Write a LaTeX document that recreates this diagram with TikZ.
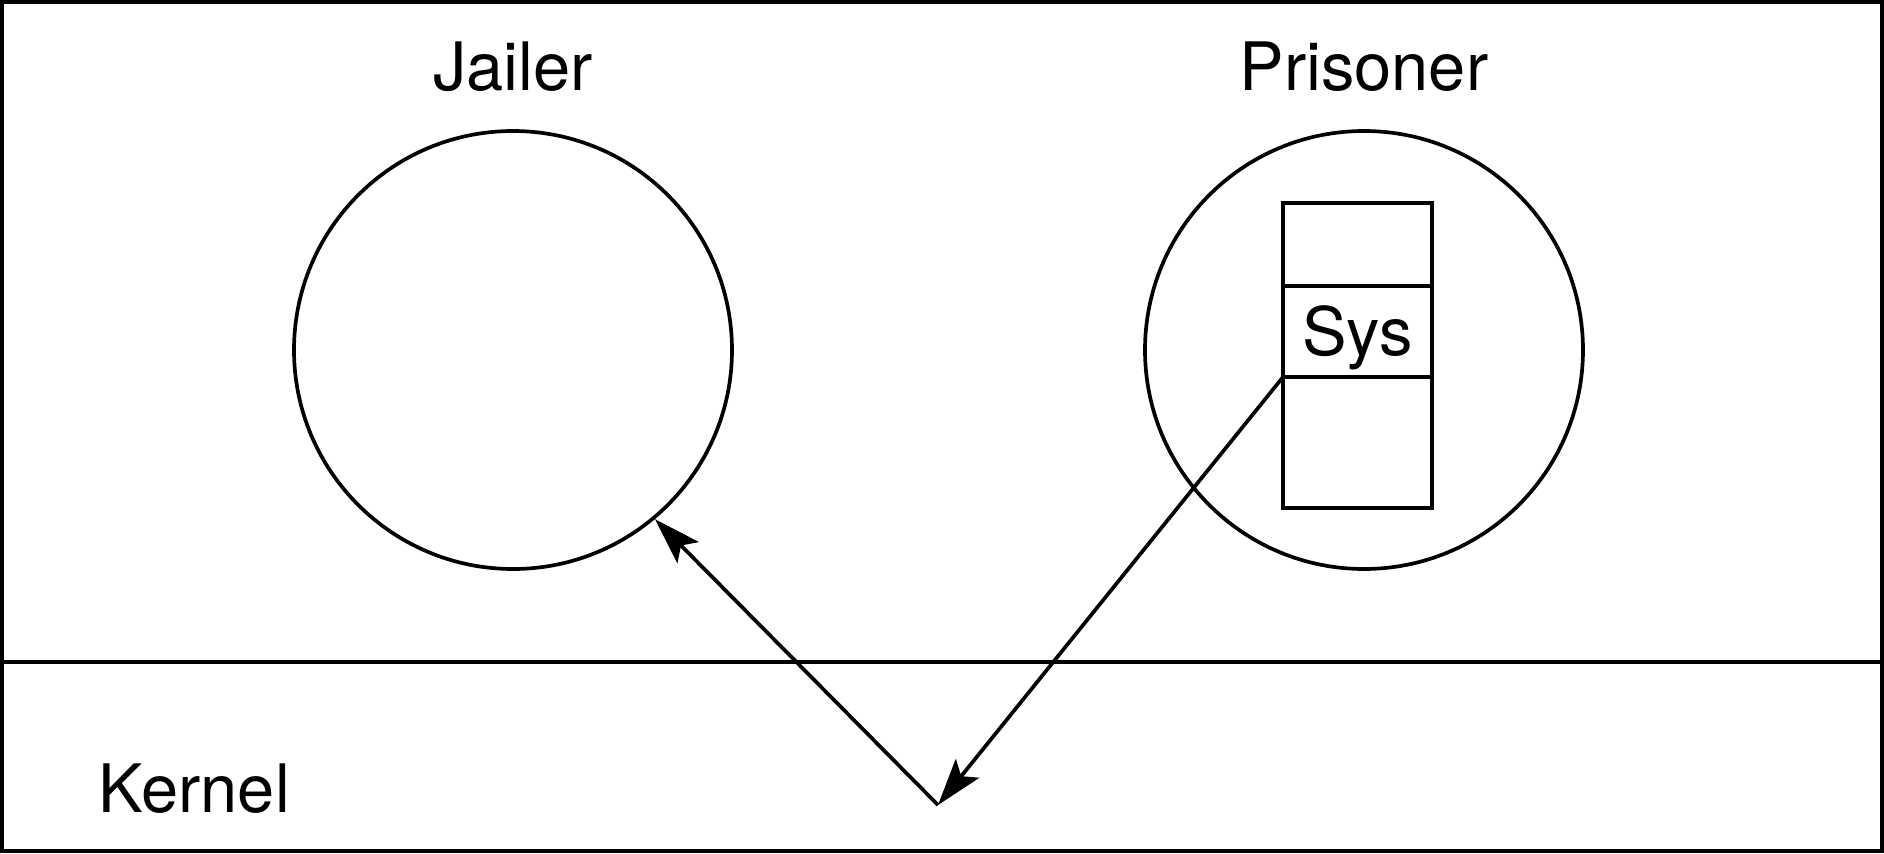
\documentclass[tikz,border=0pt]{standalone}
\usepackage{fontspec}
\setmainfont{TeX Gyre Heros}
\usetikzlibrary{arrows.meta,positioning}
\tikzset{
  proc/.style={draw,circle,minimum size=4.38cm,inner sep=0pt},
  cell/.style={draw,minimum width=1.49cm,inner sep=0pt,outer sep=0pt},
  call/.style={-{Stealth[length=4.7mm,width=3mm,inset=1mm]}},
}
\begin{document}
\begin{tikzpicture}[line width=1.05pt,font=\fontsize{19}{23}\selectfont]
  \useasboundingbox (0,0) rectangle (18.84,8.53);
  % Rahmen und Kernel-Grenze
  \draw (0.02,0.02) rectangle (18.82,8.51);
  \draw (0.02,1.91) -- (18.82,1.91);
  \node[anchor=base west,inner sep=0pt] (kernel) at (0.97,0.41) {Kernel};
  % Prozesse
  \node[proc] (jailer) at (5.13,5.03) {};
  \node[proc] (prisoner) at (13.64,5.03) {};
  \node[anchor=base] (jailerlabel) at (5.13,7.63) {Jailer};
  \node[anchor=base] (prisonerlabel) at (13.64,7.63) {Prisoner};
  % Stack im Prisoner
  \node[cell,minimum height=0.83cm,anchor=north] (top) at (13.575,6.50) {};
  \node[cell,minimum height=0.91cm,text height=0.47cm,text depth=0pt,below=0pt of top] (sys) {Sys};
  \node[cell,minimum height=1.31cm,below=0pt of sys] (bottom) {};
  % Systemaufruf
  \coordinate (bounce) at (9.38,0.48);
  \draw[call] (sys.south west) -- (bounce);
  \draw[call] (bounce) -- (jailer.310);
\end{tikzpicture}
\end{document}
